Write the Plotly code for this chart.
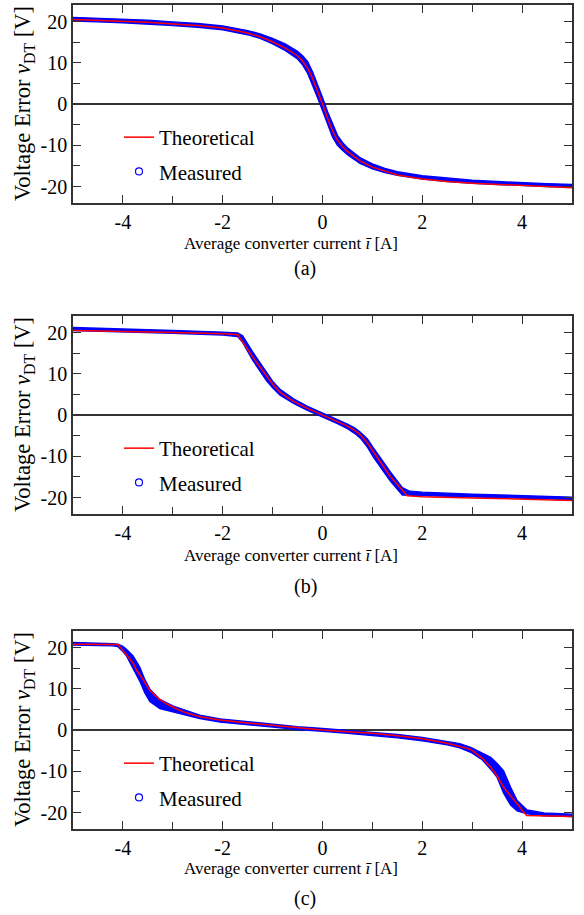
import plotly.graph_objects as go

# ---------------- data ----------------
# Panel (a)
theo_a_x = [-5, -4.5, -4, -3.5, -3, -2.5, -2, -1.5, -1.25, -1, -0.75, -0.5, -0.4, -0.3, -0.2, -0.1,
            0, 0.1, 0.2, 0.3, 0.4, 0.5, 0.75, 1, 1.25, 1.5, 2, 2.5, 3, 3.5, 4, 4.5, 5]
theo_a_y = [20.5, 20.3, 20.1, 19.8, 19.4, 19.0, 18.4, 17.2, 16.3, 15.1, 13.6, 11.7, 10.4, 8.7, 6.2, 3.2,
            0, -3.4, -6.5, -8.8, -10.3, -11.5, -13.8, -15.3, -16.3, -17.2, -18.2, -18.8, -19.2, -19.5, -19.7, -20.0, -20.3]
meas_a_x = theo_a_x
meas_a_hi = [21.0, 20.8, 20.6, 20.3, 19.9, 19.5, 18.9, 17.8, 17.0, 15.9, 14.6, 12.8, 11.7, 10.3, 7.8, 4.8,
             1.6, -1.8, -4.9, -7.6, -9.3, -10.6, -13.0, -14.5, -15.6, -16.4, -17.4, -18.0, -18.5, -18.8, -19.1, -19.3, -19.5]
meas_a_lo = [20.1, 19.9, 19.7, 19.4, 19.0, 18.6, 18.0, 16.8, 15.9, 14.6, 13.0, 10.9, 9.5, 7.5, 4.8, 1.6,
             -1.6, -5.0, -8.0, -10.0, -11.2, -12.3, -14.4, -15.7, -16.6, -17.3, -18.2, -18.8, -19.2, -19.5, -19.8, -20.0, -20.2]

# Panel (b)
theo_b_x = [-5, -4, -3, -2, -1.7, -1.4, -1.12, -1.0, -0.85, -0.7, -0.58, -0.3, 0, 0.3, 0.5, 0.65, 0.76,
            0.9, 1.02, 1.36, 1.7, 2, 3, 4, 5]
theo_b_y = [20.5, 20.3, 20.0, 19.7, 19.5, 14.1, 9.3, 7.5, 5.5, 4.2, 3.3, 1.6, 0, -1.6, -2.7, -3.8, -4.8,
            -6.8, -9.0, -14.9, -19.6, -19.8, -20.1, -20.4, -20.7]
meas_b_x = [-5, -4, -3, -2, -1.7, -1.6, -1.4, -1.12, -1.0, -0.85, -0.7, -0.58, -0.3, 0, 0.3, 0.5, 0.65,
            0.76, 0.9, 1.02, 1.36, 1.6, 1.75, 2, 3, 4, 5]
meas_b_hi = [21.2, 20.9, 20.5, 20.1, 19.9, 19.2, 15.3, 10.3, 8.2, 6.2, 4.8, 3.9, 2.1, 0.5, -1.1, -2.2, -3.2,
             -4.2, -5.8, -8.0, -13.8, -17.6, -18.5, -18.7, -19.2, -19.6, -19.9]
meas_b_lo = [20.5, 20.2, 19.8, 19.4, 19.0, 17.6, 13.3, 8.3, 6.6, 4.8, 3.6, 2.8, 1.1, -0.5, -2.1, -3.3, -4.5,
             -5.6, -7.8, -10.2, -16.0, -19.4, -19.5, -19.5, -19.9, -20.2, -20.5]

# Panel (c)
theo_c_x = [-5, -4.1, -3.8, -3.73, -3.6, -3.46, -3.3, -3.12, -2.92, -2.72, -2.46, -2.05, -1.5, -1, -0.5,
            0, 0.5, 1, 1.5, 2, 2.5, 2.75, 2.97, 3.2, 3.37, 3.5, 3.63, 3.9, 4.09, 5]
theo_c_y = [20.8, 20.7, 16.3, 14.6, 12.3, 9.6, 7.7, 6.3, 5.1, 4.1, 3.2, 2.4, 1.7, 1.1, 0.5,
            0, -0.4, -0.8, -1.4, -2.1, -3.2, -3.9, -4.7, -6.8, -9.0, -11.2, -13.9, -17.9, -20.75, -20.95]
meas_c_x = [-5, -4.5, -4.2, -4.1, -4.0, -3.93, -3.8, -3.66, -3.56, -3.46, -3.26, -2.99, -2.46, -2.05, -1.5,
            -1, -0.5, 0, 0.5, 1, 1.5, 2, 2.5, 2.75, 2.97, 3.2, 3.37, 3.5, 3.63, 3.77, 3.9, 4.1, 4.44, 5]
meas_c_hi = [21.2, 21.1, 20.9, 20.8, 20.3, 19.6, 18.0, 15.2, 12.2, 9.9, 7.4, 5.8, 3.6, 2.7, 2.0,
             1.4, 0.8, 0.4, -0.1, -0.6, -1.1, -1.8, -2.7, -3.3, -4.2, -5.5, -6.6, -8.1, -9.9, -13.9, -17.1, -19.4, -20.1, -20.4]
meas_c_lo = [20.6, 20.5, 20.4, 20.2, 19.0, 18.0, 15.2, 11.8, 9.0, 6.9, 5.2, 4.3, 2.8, 1.9, 1.2,
             0.7, 0.1, -0.3, -0.8, -1.3, -1.9, -2.6, -3.6, -4.3, -5.4, -7.2, -9.5, -11.5, -15.3, -18.2, -19.6, -20.3, -20.8, -21.0]

x_tick_vals = [-4, -2, 0, 2, 4]
x_tick_text = ["-4", "-2", "0", "2", "4"]
x_minor_vals = [-3, -1, 1, 3]
y_tick_vals = [-20, -10, 0, 10, 20]
y_tick_text = ["-20", "-10", "0", "10", "20"]
y_minor_vals = [-15, -5, 5, 15]

captions = ["(a)", "(b)", "(c)"]

# ---------------- layout geometry ----------------
W, H = 584, 915
FONT = "Liberation Serif"
x_left, x_right = 73, 572
panel_tops = [5, 316, 631]
panel_h = 198
xtitle_y = [244, 555, 868]
caption_y = [268, 586, 898]

fig = go.Figure()

panels = [
    (theo_a_x, theo_a_y, meas_a_x, meas_a_hi, meas_a_lo),
    (theo_b_x, theo_b_y, meas_b_x, meas_b_hi, meas_b_lo),
    (theo_c_x, theo_c_y, meas_c_x, meas_c_hi, meas_c_lo),
]

BLUE = "#0000ff"
RED = "#ff0000"
AX = "#333333"

annotations = []
for i, (tx, ty, mx, mhi, mlo) in enumerate(panels):
    n = "" if i == 0 else str(i + 1)
    xa, ya = "x" + n, "y" + n
    leg = "legend" + n
    # measured band
    fig.add_trace(go.Scatter(
        x=list(mx) + list(mx)[::-1], y=list(mhi) + list(mlo)[::-1],
        fill="toself", fillcolor=BLUE, mode="lines",
        line=dict(color=BLUE, width=1.4), showlegend=False, hoverinfo="skip",
        xaxis=xa, yaxis=ya))
    # theoretical
    fig.add_trace(go.Scatter(
        x=tx, y=ty, mode="lines", name="Theoretical",
        line=dict(color=RED, width=1.5), legend=leg, legendgroup="t" + n,
        xaxis=xa, yaxis=ya))
    # measured legend entry
    fig.add_trace(go.Scatter(
        x=[None], y=[None], mode="markers", name="Measured",
        marker=dict(symbol="circle-open", size=7, color=BLUE, line=dict(width=1.2, color=BLUE)),
        legend=leg, legendgroup="m" + n, xaxis=xa, yaxis=ya))

    top = panel_tops[i]
    bot = top + panel_h
    dom_y = [1 - bot / H, 1 - top / H]
    axis_common = dict(showline=True, linecolor=AX, linewidth=1.5, mirror="allticks",
                       ticks="inside", ticklen=8, tickwidth=1.3, tickcolor=AX,
                       showgrid=False, automargin=False,
                       tickfont=dict(family=FONT, size=20, color="black"))
    minor_common = dict(ticks="inside", ticklen=7, tickwidth=1.3, tickcolor=AX, showgrid=False)
    fig.layout["xaxis" + n] = dict(
        domain=[x_left / W, x_right / W], range=[-5, 5], anchor=ya,
        tickmode="array", tickvals=x_tick_vals, ticktext=x_tick_text,
        minor=dict(tickmode="array", tickvals=x_minor_vals, **minor_common),
        zeroline=False, **axis_common)
    fig.layout["yaxis" + n] = dict(
        domain=dom_y, range=[-24, 24], anchor=xa,
        tickmode="array", tickvals=y_tick_vals, ticktext=y_tick_text,
        minor=dict(tickmode="array", tickvals=y_minor_vals, **minor_common),
        zeroline=True, zerolinecolor=AX, zerolinewidth=1.5, **axis_common)
    fig.layout[leg] = dict(
        x=119 / W, y=1 - (top + 112) / H, xanchor="left", yanchor="top",
        font=dict(family=FONT, size=21, color="black"), bgcolor="rgba(0,0,0,0)",
        tracegroupgap=4, traceorder="grouped", itemwidth=30)

    annotations.append(dict(
        text="Voltage Error <i>v</i><sub>DT</sub> [V]", textangle=-90,
        x=24 / W, y=1 - (top + panel_h / 2) / H, xref="paper", yref="paper",
        xanchor="center", yanchor="middle", showarrow=False,
        font=dict(family=FONT, size=22.5, color="black")))
    annotations.append(dict(
        text="Average converter current <i>ī</i> [A]",
        x=291 / W, y=1 - xtitle_y[i] / H, xref="paper", yref="paper",
        xanchor="center", yanchor="middle", showarrow=False,
        font=dict(family=FONT, size=17, color="black")))
    annotations.append(dict(
        text=captions[i],
        x=305 / W, y=1 - caption_y[i] / H, xref="paper", yref="paper",
        xanchor="center", yanchor="middle", showarrow=False,
        font=dict(family=FONT, size=20, color="black")))

fig.update_layout(
    width=W, height=H, margin=dict(l=0, r=0, t=0, b=0),
    paper_bgcolor="white", plot_bgcolor="white",
    annotations=annotations, showlegend=True,
)

fig.write_html("out.html", config={"displayModeBar": False},
               post_script="document.body.style.margin='0px';document.body.style.overflow='hidden';")
